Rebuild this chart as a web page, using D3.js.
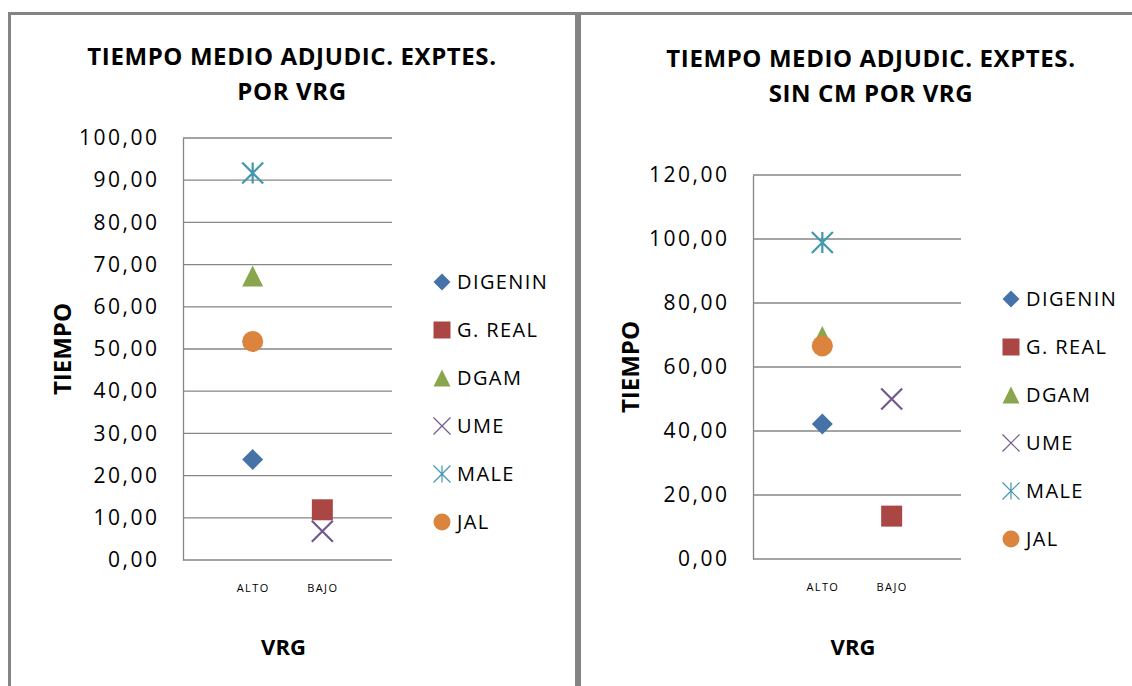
<!DOCTYPE html>
<html>
<head>
<meta charset="utf-8">
<script src="https://cdnjs.cloudflare.com/ajax/libs/d3/7.8.5/d3.min.js"></script>
<style>
    body { margin: 0; background: #fff; }
    svg text { font-family: "Open Sans", "DejaVu Sans", sans-serif; fill: #000; }
</style>
</head>
<body>
<svg id="chart" width="1132" height="686"></svg>
<script>
// data
var seriesNames = ["DIGENIN", "G. REAL", "DGAM", "UME", "MALE", "JAL"];
var seriesColors = ["#4572A7", "#AA4643", "#89A54E", "#71588F", "#4198AF", "#DB843D"];
var seriesMarkers = ["diamond", "square", "triangle", "x", "star", "circle"];
var categories = ["ALTO", "BAJO"];
var seriesCategory = ["ALTO", "BAJO", "ALTO", "BAJO", "ALTO", "ALTO"];

var leftValues = [23.8, 11.9, 67.3, 6.8, 91.7, 51.8];
var leftTicks = [0, 10, 20, 30, 40, 50, 60, 70, 80, 90, 100];

var rightCategory = ["ALTO", "BAJO", "ALTO", "BAJO", "ALTO", "ALTO"];
var rightValues = [42.2, 13.4, 69.5, 50.0, 98.9, 66.6];
var rightTicks = [0, 20, 40, 60, 80, 100, 120];

var fmt = function (v) { return d3.format(".2f")(v).replace(".", ","); };

// excel-like marker shapes as d3 symbol types (size = full width in px)
var markerTypes = {
    diamond: { draw: function (c, s) { var h = s / 2; c.moveTo(0, -h); c.lineTo(h, 0); c.lineTo(0, h); c.lineTo(-h, 0); c.closePath(); } },
    square: { draw: function (c, s) { var h = s / 2; c.rect(-h, -h, s, s); } },
    triangle: { draw: function (c, s) { var h = s / 2; c.moveTo(0, -h); c.lineTo(h, h); c.lineTo(-h, h); c.closePath(); } },
    circle: { draw: function (c, s) { var h = s / 2; c.moveTo(h, 0); c.arc(0, 0, h, 0, 2 * Math.PI); } },
    x: { draw: function (c, s) { var h = s / 2; c.moveTo(-h, -h); c.lineTo(h, h); c.moveTo(h, -h); c.lineTo(-h, h); } },
    star: { draw: function (c, s) { var h = s / 2; c.moveTo(-h, -h); c.lineTo(h, h); c.moveTo(h, -h); c.lineTo(-h, h); c.moveTo(0, -h); c.lineTo(0, h); } }
};
var stroked = { x: true, star: true };

var svg = d3.select("#chart");

function drawMarker(sel, type, color, size, lineW) {
    sel.attr("d", d3.symbol().type(markerTypes[type]).size(size)())
        .attr("fill", stroked[type] ? "none" : color)
        .attr("stroke", stroked[type] ? color : "none")
        .attr("stroke-width", stroked[type] ? lineW : 0);
}

function drawChart(cfg) {
    var g = svg.append("g");

    // panel frame
    g.append("rect")
        .attr("x", cfg.frame[0]).attr("y", cfg.frame[1])
        .attr("width", cfg.frame[2]).attr("height", 720)
        .attr("fill", "none")
        .attr("stroke", "#848484")
        .attr("stroke-width", 3);

    var xScale = d3.scalePoint()
        .domain(categories)
        .range([cfg.left, cfg.right])
        .padding(1);
    var yScale = d3.scaleLinear()
        .domain([0, d3.max(cfg.ticks)])
        .range([cfg.bottom, cfg.top]);

    // gridlines
    g.selectAll(".grid")
        .data(cfg.ticks)
        .enter()
        .append("line")
        .attr("x1", cfg.left).attr("x2", cfg.right)
        .attr("y1", function (d) { return yScale(d); })
        .attr("y2", function (d) { return yScale(d); })
        .attr("stroke", "#868686")
        .attr("stroke-width", 1.3);

    // letter-spacing also pads after the last glyph, so shift by it
    var yAxis = d3.axisLeft(yScale)
        .tickValues(cfg.ticks)
        .tickFormat(fmt)
        .tickSize(0)
        .tickPadding(cfg.left - cfg.labelEnd - 2.5);
    var ya = g.append("g")
        .attr("transform", "translate(" + cfg.left + ",0)")
        .call(yAxis);
    ya.select(".domain").attr("stroke", "#868686").attr("stroke-width", 1.3);
    ya.selectAll("text")
        .attr("font-size", 21)
        .attr("letter-spacing", 2.5);

    var xAxis = d3.axisBottom(xScale).tickSize(0).tickPadding(24);
    var xa = g.append("g")
        .attr("transform", "translate(0," + cfg.bottom + ")")
        .call(xAxis);
    xa.select(".domain").remove();
    xa.selectAll("text")
        .attr("font-size", 11)
        .attr("letter-spacing", 1.4);

    // titles
    g.selectAll(".title")
        .data(cfg.title)
        .enter()
        .append("text")
        .attr("x", cfg.titleX)
        .attr("y", function (d, i) { return cfg.titleY + i * 35; })
        .attr("text-anchor", "middle")
        .attr("font-weight", "bold")
        .attr("font-size", 24)
        .attr("letter-spacing", 0.6)
        .text(function (d) { return d; });

    g.append("text")
        .attr("x", (cfg.left + cfg.right) / 2 - 4)
        .attr("y", 655)
        .attr("text-anchor", "middle")
        .attr("font-weight", "bold")
        .attr("font-size", 22)
        .text("VRG");

    g.append("text")
        .attr("transform", "translate(" + cfg.yTitleX + "," + cfg.yTitleY + ") rotate(-90)")
        .attr("text-anchor", "middle")
        .attr("font-weight", "bold")
        .attr("font-size", 24)
        .text("TIEMPO");

    // points
    var points = seriesNames.map(function (name, i) {
        return { name: name, cat: cfg.cats[i], value: cfg.values[i], color: seriesColors[i], marker: seriesMarkers[i] };
    });
    g.selectAll(".pt")
        .data(points)
        .enter()
        .append("path")
        .attr("transform", function (d) { return "translate(" + xScale(d.cat) + "," + yScale(d.value) + ")"; })
        .each(function (d) {
            drawMarker(d3.select(this), d.marker, d.color, 21, 2.2);
        });

    // legend
    var leg = g.selectAll(".leg")
        .data(points)
        .enter()
        .append("g")
        .attr("transform", function (d, i) { return "translate(" + cfg.legX + "," + (cfg.legY + i * 48) + ")"; });
    leg.append("path")
        .each(function (d) {
            drawMarker(d3.select(this), d.marker, d.color, 17, 1.2);
        });
    leg.append("text")
        .attr("x", 15)
        .attr("dy", "0.35em")
        .attr("font-size", 20)
        .attr("letter-spacing", 1.4)
        .text(function (d) { return d.name; });
}

drawChart({
    frame: [9.5, 13.5, 567],
    left: 183, right: 392, top: 138, bottom: 560, labelEnd: 157,
    ticks: leftTicks, values: leftValues, cats: seriesCategory,
    title: ["TIEMPO MEDIO ADJUDIC. EXPTES.", "POR VRG"], titleX: 292, titleY: 65,
    yTitleX: 71, yTitleY: 349,
    legX: 442, legY: 282
});

drawChart({
    frame: [579.5, 13.5, 600],
    left: 753, right: 961, top: 175, bottom: 559, labelEnd: 727,
    ticks: rightTicks, values: rightValues, cats: rightCategory,
    title: ["TIEMPO MEDIO ADJUDIC. EXPTES.", "SIN CM POR VRG"], titleX: 871, titleY: 67,
    yTitleX: 639, yTitleY: 367,
    legX: 1011, legY: 299
});
</script>
</body>
</html>
